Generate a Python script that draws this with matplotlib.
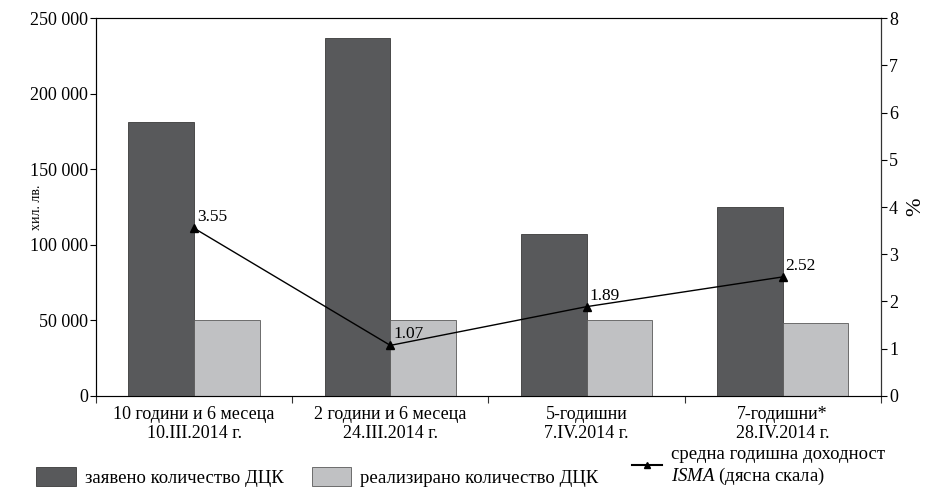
import numpy as np
import matplotlib.pyplot as plt
from matplotlib.patches import Patch
from matplotlib.lines import Line2D
from matplotlib.ticker import FuncFormatter

plt.rcParams['font.family'] = ['Liberation Serif', 'DejaVu Serif']
plt.rcParams['mathtext.fontset'] = 'custom'
plt.rcParams['mathtext.it'] = 'Liberation Serif:italic'
plt.rcParams['mathtext.rm'] = 'Liberation Serif'

categories = ['10 години и 6 месеца\n10.III.2014 г.', '2 години и 6 месеца\n24.III.2014 г.',
              '5-годишни\n7.IV.2014 г.', '7-годишни*\n28.IV.2014 г.']
requested = [181000, 237000, 107000, 125000]
sold = [50000, 50000, 50000, 48500]
yield_isma = [3.55, 1.07, 1.89, 2.52]

dark = '#58595b'
light = '#c0c1c3'

fig = plt.figure(figsize=(9.33, 4.9), dpi=100)
ax = fig.add_axes([0.103, 0.192, 0.841, 0.771])
x = np.arange(len(categories))
w = 0.335
ax.bar(x - w / 2, requested, w, color=dark, edgecolor='#3a3a3a', linewidth=0.6)
ax.bar(x + w / 2, sold, w, color=light, edgecolor='#5a5a5a', linewidth=0.6)
ax.set_xlim(-0.5, len(categories) - 0.5)
ax.set_ylim(0, 250000)
ax.set_yticks(np.arange(0, 250001, 50000))
ax.yaxis.set_major_formatter(FuncFormatter(lambda v, p: f'{int(v):,}'.replace(',', ' ')))
ax.set_xticks(np.arange(-0.5, len(categories)), minor=False)
ax.set_xticklabels([])
ax.set_xticks(x, minor=True)
ax.set_xticklabels(categories, minor=True, fontsize=13, linespacing=1.15)
ax.tick_params(axis='x', which='minor', length=0, pad=7)
ax.tick_params(axis='x', which='major', length=5, color='#333333')
ax.tick_params(axis='y', labelsize=13, length=4, pad=2)
ax.set_ylabel('хил. лв.', fontsize=10)
ax.yaxis.set_label_coords(-0.068, 0.5)
for s in ['top', 'bottom']:
    ax.spines[s].set_color('#777777')
ax.spines['left'].set_color('#333333')

ax2 = ax.twinx()
ax2.plot(x, yield_isma, color='black', linewidth=1, marker='^', markersize=6)
ax2.set_ylim(0, 8)
ax2.set_yticks(range(0, 9))
ax2.tick_params(axis='y', labelsize=13, length=4, pad=2)
ax2.set_ylabel('%', fontsize=16, labelpad=6)
ax2.spines['right'].set_color('#333333')
for xi, v in zip(x, yield_isma):
    ax2.annotate(f'{v:.2f}', (xi, v), xytext=(2, 5), textcoords='offset points', fontsize=12.5)

legend_items = [
    (Patch(facecolor=dark, edgecolor='#3a3a3a', linewidth=0.6), 'заявено количество ДЦК', 0.033, 2.1),
    (Patch(facecolor=light, edgecolor='#5a5a5a', linewidth=0.6), 'реализирано количество ДЦК', 0.328, 2.1),
    (Line2D([0], [0], color='black', linewidth=1.5, marker='^', markersize=5),
     'средна годишна доходност\n$\\it{ISMA}$ (дясна скала)', 0.671, 1.6),
]
for h, lab, xpos, hl in legend_items:
    fig.legend([h], [lab], loc='lower left', bbox_to_anchor=(xpos, -0.005), frameon=False,
               fontsize=13.5, handlelength=hl, handleheight=1.25, handletextpad=0.5,
               borderaxespad=0, borderpad=0.3, labelspacing=0, columnspacing=0)

fig.savefig('out.png', dpi=100)
